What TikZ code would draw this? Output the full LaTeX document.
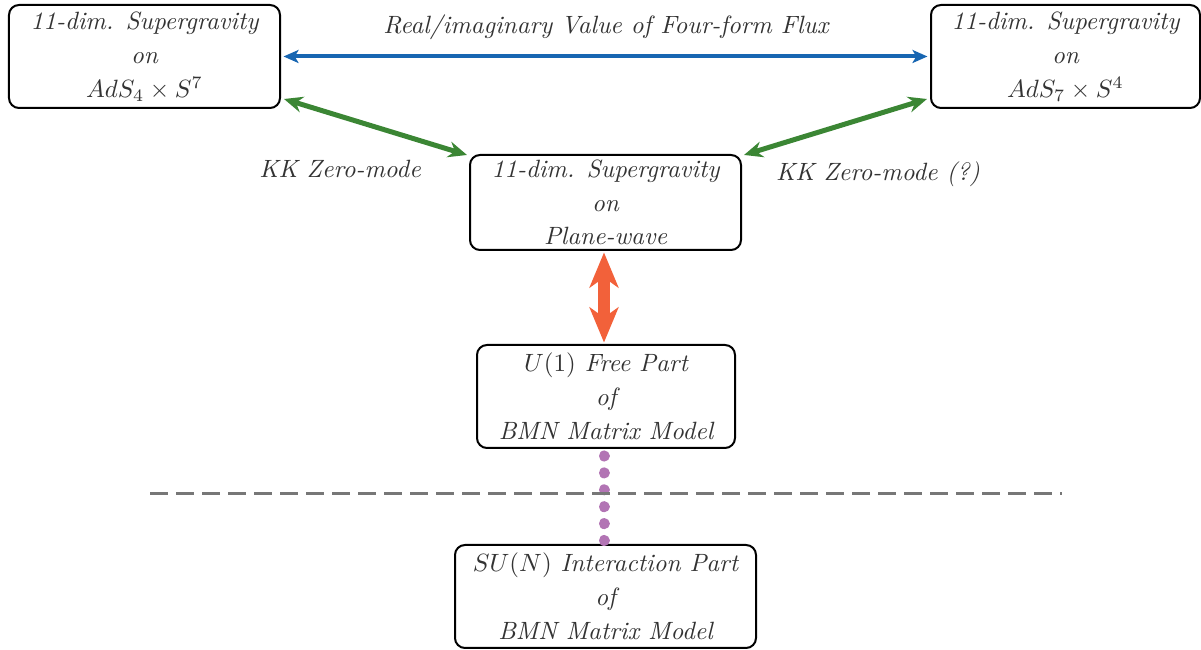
\documentclass[tikz,border=0pt]{standalone}
\usetikzlibrary{arrows.meta}
\definecolor{txtc}{HTML}{333333}
\definecolor{bluec}{HTML}{1766B2}
\definecolor{greenc}{HTML}{3B8634}
\definecolor{orangec}{HTML}{F2613A}
\definecolor{purplec}{HTML}{B274B4}
\definecolor{grayc}{HTML}{777777}
\tikzset{
  box/.style={draw=black, line width=0.8pt, rounded corners=4pt, align=center,
    inner sep=0pt, text=txtc, font=\itshape},
  lbl/.style={text=txtc, font=\itshape, inner sep=0pt},
  bluearrow/.style={draw=bluec, line width=1.6pt, {Stealth[length=6pt,width=5.2pt,inset=1.5pt]}-{Stealth[length=6pt,width=5.2pt,inset=1.5pt]}},
  greenarrow/.style={draw=greenc, line width=2pt, {Stealth[length=7.5pt,width=6.4pt,inset=2.5pt]}-{Stealth[length=7.5pt,width=6.4pt,inset=2.5pt]}},
  orangearrow/.style={draw=orangec, line width=4.8pt, {Stealth[length=14pt,width=11.5pt,inset=4pt]}-{Stealth[length=14pt,width=11.5pt,inset=4pt]}},
  purpledots/.style={draw=purplec, line width=4.4pt, line cap=round, dash pattern=on 0.01pt off 6.75pt},
  graydash/.style={draw=grayc, line width=1.2pt, dash pattern=on 7pt off 3.4pt}
}
\begin{document}
\begin{tikzpicture}[x=0.4pt,y=-0.4pt]
\useasboundingbox (0,0) rectangle (1201,650);
\node[box, minimum width=108.4pt, minimum height=41.2pt] (tl) at (144.5,56.5)
  {11-dim. Supergravity\\[1.6pt] on\\[1.6pt] $AdS_4\times S^7$};
\node[box, minimum width=107.6pt, minimum height=41.2pt] (tr) at (1065.5,56.5)
  {11-dim. Supergravity\\[1.6pt] on\\[1.6pt] $AdS_7\times S^4$};
\node[box, minimum width=108.4pt, minimum height=38pt] (mid) at (605.5,202.5)
  {11-dim. Supergravity\\[1.4pt] on\\[1.4pt] Plane-wave};
\node[box, minimum width=103.2pt, minimum height=41.2pt] (u1) at (606,396.5)
  {$U(1)$ Free Part\\[1.6pt] of\\[1.6pt] BMN Matrix Model};
\node[box, minimum width=120.4pt, minimum height=41.2pt] (sun) at (605.5,596.5)
  {$SU(N)$ Interaction Part\\[1.6pt] of\\[1.6pt] BMN Matrix Model};

\draw[bluearrow, shorten <=1pt, shorten >=1pt] (tl.east) -- (tr.west);
\node[lbl] (flux) at (606,27) {Real/imaginary Value of Four-form Flux};

\draw[greenarrow] ([xshift=1.2pt,yshift=4pt]tl.south east) -- ([xshift=-0.8pt,yshift=-0.4pt]mid.north west);
\draw[greenarrow] ([xshift=0.8pt,yshift=-0.4pt]mid.north east) -- ([xshift=-1.2pt,yshift=4pt]tr.south west);
\node[lbl] (kk1) at (340,169) {KK Zero-mode};
\node[lbl] (kk2) at (878,174) {KK Zero-mode (?)};

\draw[orangearrow, shorten <=0.6pt, shorten >=0.6pt] ([xshift=-0.6pt]mid.south) -- ([xshift=-0.8pt]u1.north);

\draw[purpledots, shorten <=2.8pt] ([xshift=-0.8pt]u1.south) -- ([xshift=-0.6pt]sun.north);

\draw[graydash] (150,494) -- (1062,494);
\end{tikzpicture}
\end{document}
